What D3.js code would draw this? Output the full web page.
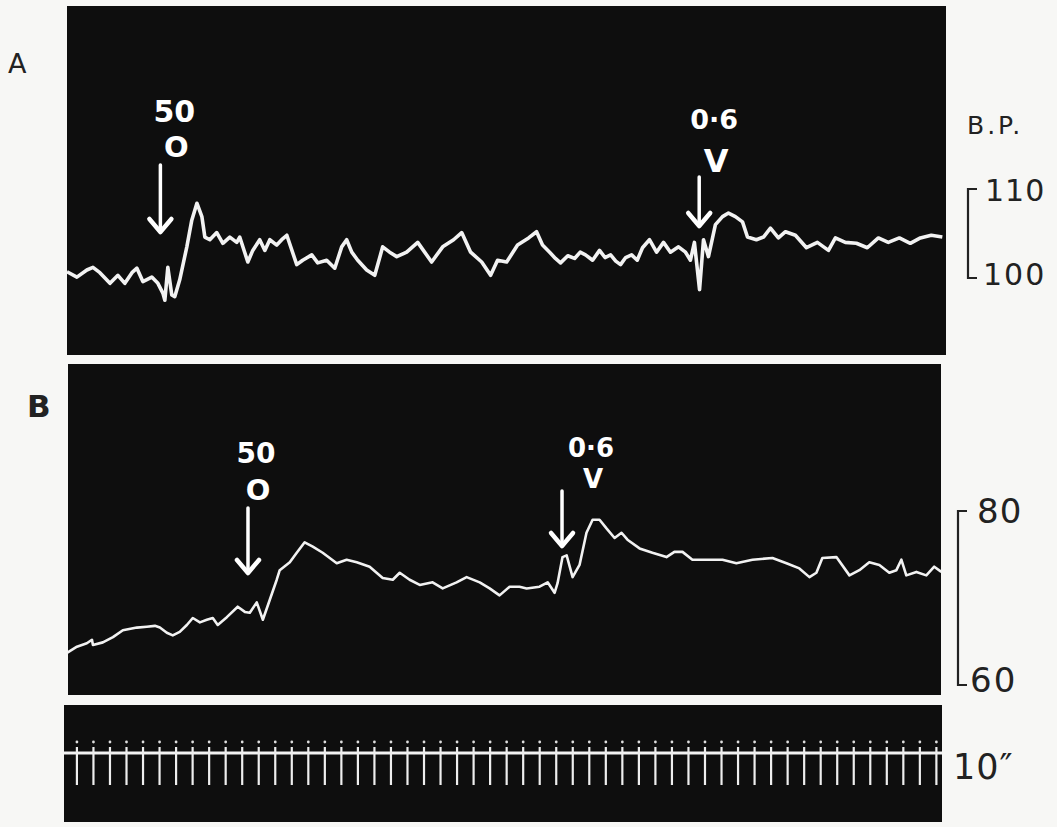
<!DOCTYPE html>
<html>
<head>
<meta charset="utf-8">
<script src="https://cdn.jsdelivr.net/npm/d3@7/dist/d3.min.js"></script>
<style>
  body { margin: 0; background: #f7f7f5; }
  svg { display: block; }
</style>
</head>
<body>
<div id="main_div"></div>
<script>
// time in seconds, pressure in mm Hg
var tA = [-6, 0, 6, 9.7, 13.9, 20, 24.8, 29, 33.3, 36.3, 39.9, 45.3, 49, 52, 53.2, 55, 57.4, 59.2, 62.2, 66.5,
  69.5, 72.6, 75.6, 77.4, 80.4, 84.6, 88.3, 92.5, 96.7, 98.5, 103.4, 106.4, 110.6, 113.7, 116.7, 120.9, 123.9, 127,
  133, 136.6, 142.1, 145.7, 151.1, 156, 160.2, 163.2, 166.3, 169.9, 175.3, 180.2, 185, 189.2, 193.5, 199.5, 206.2,
  214.6, 221.3, 227.9, 232.8, 238.2, 244.9, 250.3, 254.5, 260, 266.6, 273.3, 278.1, 281.7, 286, 289.5, 292.6, 297,
  301.1, 304.5, 307.7, 312, 316.2, 319.5, 322.9, 326, 328.9, 332, 335.6, 339, 342.2, 346.4, 350.7, 354.9, 359.1, 364,
  368.2, 371.2, 373.6, 376.7, 379.1, 382.1, 386.3, 390.6, 394.2, 398.4, 402.7, 405.7, 411.1, 415.4, 419.6, 424.4,
  428.7, 434.7, 441.4, 448, 454.7, 458.9, 464.9, 471.6, 478.2, 484.9, 490.9, 497.6, 504.2, 510.3, 516.9, 523.6];
var bpA = [100.7, 100.1, 100.9, 101.2, 100.6, 99.4, 100.3, 99.4, 100.6, 101.1, 99.6, 100.1, 99.4, 98.3, 97.5, 101.2,
  98.1, 97.9, 99.8, 103.5, 106.5, 108.4, 106.9, 104.6, 104.3, 105.1, 103.9, 104.6, 104.0, 104.6, 101.8, 103.1,
  104.3, 103.1, 104.3, 103.7, 104.3, 104.8, 101.5, 102.0, 102.6, 101.7, 102.0, 101.1, 103.5, 104.3, 102.9, 102.0,
  100.9, 100.3, 103.5, 102.9, 102.4, 102.9, 104.0, 101.8, 103.5, 104.3, 105.1, 102.9, 101.8, 100.3, 102.0, 101.8,
  103.7, 104.5, 105.2, 103.7, 102.9, 102.2, 101.7, 102.5, 102.2, 102.9, 102.6, 102.0, 103.1, 102.3, 102.6, 101.9,
  101.5, 102.3, 102.6, 102.0, 103.4, 104.3, 102.9, 104.0, 102.9, 103.5, 102.9, 102.0, 104.0, 98.7, 104.3, 102.4,
  106.0, 106.9, 107.3, 106.9, 106.3, 104.6, 104.3, 104.6, 105.6, 104.5, 105.2, 104.8, 103.4, 104.0, 103.1, 104.5,
  104.0, 103.9, 103.4, 104.5, 104.0, 104.5, 103.9, 104.5, 104.8, 104.6];

var tB = [-6, 0, 6, 9.1, 9.7, 15.7, 21.8, 27.8, 36.3, 42.3, 47.2, 50.2, 54.4, 58, 62.2, 66.5, 70.1, 74.4, 78.6, 82.2,
  85.2, 90.7, 97.3, 101.6, 104.6, 108.8, 112.5, 116.7, 120.9, 122.7, 128.8, 133, 137.8, 142.7, 148.7, 157.2, 163.2,
  169.3, 177.1, 185, 191.1, 195.3, 201.3, 207.4, 215.2, 221.3, 229.7, 235.8, 243.7, 249.7, 255.7, 261.8, 267.8,
  272.1, 279.9, 284.8, 289, 290.8, 293.8, 296.3, 299.9, 304.1, 308.3, 312, 316.2, 320.4, 325.3, 329.5, 333.1, 340.4,
  348.2, 356.7, 361.5, 366.4, 372.4, 380.9, 390.6, 399, 408.7, 420.8, 429.3, 437.1, 443.2, 447.4, 451, 459.5, 467.4,
  473.4, 479.4, 485.5, 491.5, 495.8, 498.8, 501.8, 507.9, 513.9, 518.7, 523];
var bpB = [63.7, 64.4, 64.8, 65.2, 64.6, 64.9, 65.5, 66.3, 66.6, 66.7, 66.8, 66.6, 66.0, 65.7, 66.1, 66.9, 67.7, 67.2,
  67.5, 67.7, 66.9, 67.8, 69.0, 68.4, 68.3, 69.5, 67.5, 69.8, 72.1, 73.2, 74.1, 75.2, 76.4, 75.9, 75.2, 74.0, 74.4,
  74.1, 73.6, 72.3, 72.1, 72.9, 72.1, 71.5, 71.8, 71.1, 71.8, 72.4, 71.8, 71.1, 70.3, 71.3, 71.3, 71.1, 71.3, 71.8,
  70.6, 71.7, 74.7, 74.9, 72.4, 73.8, 77.5, 79.0, 79.0, 78.0, 76.9, 77.5, 76.7, 75.7, 75.2, 74.7, 75.3, 75.3, 74.4,
  74.4, 74.4, 74.0, 74.4, 74.6, 74.0, 73.4, 72.4, 72.9, 74.6, 74.7, 72.6, 73.2, 74.1, 73.8, 72.9, 73.2, 74.4, 72.6,
  73.0, 72.6, 73.6, 73.0];

// injections: time of the arrow and the two lines written above it
var injA = [{t: 50.5, dose: "50", drug: "O"}, {t: 376.5, dose: "0\u00b76", drug: "V"}];
var injB = [{t: 103.5, dose: "50", drug: "O"}, {t: 293.5, dose: "0\u00b76", drug: "V"}];

var scaleA = [100, 110];
var scaleB = [60, 80];
var timeMarks = d3.range(0, 521, 10);   // every 10 s

var W = 1057, H = 827;
var svg = d3.select("#main_div").append("svg").attr("width", W).attr("height", H);

var x = d3.scaleLinear().domain([-6, 524]).range([67, 943]);
var yA = d3.scaleLinear().domain([100, 110]).range([278, 189]);
var yB = d3.scaleLinear().domain([60, 80]).range([685, 511]);

// black record strips
var panels = [{x: 67, y: 6, w: 879, h: 349}, {x: 68, y: 364, w: 873, h: 331}, {x: 64, y: 705, w: 878, h: 117}];
svg.selectAll("rect.panel").data(panels).enter().append("rect")
  .attr("class", "panel")
  .attr("x", function(d){ return d.x })
  .attr("y", function(d){ return d.y })
  .attr("width", function(d){ return d.w })
  .attr("height", function(d){ return d.h })
  .style("fill", "#0e0e0e");

function trace(ts, vs, y, sw){
  var line = d3.line()
    .x(function(d, i){ return x(ts[i]) })
    .y(function(d){ return y(d) });
  svg.append("path")
    .attr("d", line(vs))
    .style("fill", "none")
    .style("stroke", "#f2f2f2")
    .style("stroke-width", sw)
    .style("stroke-linejoin", "round");
}
trace(tA, bpA, yA, 3.6);
trace(tB, bpB, yB, 2.6);

// arrows + labels
var layA = [{top: 165, tip: 232, y1: 122, y2: 157, dx: 14, s1: 30, s2: 29},
            {top: 177, tip: 226, y1: 129, y2: 172, dx: 15, s1: 27, s2: 32}];
var layB = [{top: 508, tip: 573, y1: 463, y2: 500, dx: 8, s1: 28, s2: 29},
            {top: 491, tip: 546, y1: 457, y2: 488, dx: 29, s1: 26, s2: 26}];

function arrows(inj, lay){
  inj.forEach(function(d, i){
    var L = lay[i], ax = x(d.t);
    svg.append("line")
      .attr("x1", ax).attr("x2", ax).attr("y1", L.top).attr("y2", L.tip - 3)
      .style("stroke", "#fff").style("stroke-width", 3.5).style("stroke-linecap", "round");
    svg.append("path")
      .attr("d", "M" + (ax - 11) + "," + (L.tip - 13) + " L" + ax + "," + L.tip + " L" + (ax + 11) + "," + (L.tip - 13))
      .style("fill", "none").style("stroke", "#fff").style("stroke-width", 4.5)
      .style("stroke-linecap", "round").style("stroke-linejoin", "round");
    svg.append("text")
      .attr("x", ax + L.dx).attr("y", L.y1)
      .style("text-anchor", "middle").style("font-family", "DejaVu Sans").style("font-weight", "bold")
      .style("font-size", L.s1 + "px").style("fill", "#fff")
      .text(d.dose);
    svg.append("text")
      .attr("x", ax + L.dx + 2).attr("y", L.y2)
      .style("text-anchor", "middle").style("font-family", "DejaVu Sans").style("font-weight", "bold")
      .style("font-size", L.s2 + "px").style("fill", "#fff")
      .text(d.drug);
  });
}
arrows(injA, layA);
arrows(injB, layB);

// calibration brackets
function bracket(y, vals, bx, tx, fs, tx0){
  var y0 = y(vals[0]), y1 = y(vals[1]);
  svg.append("path")
    .attr("d", "M" + (bx + 9) + "," + y1 + " H" + bx + " V" + y0 + " H" + (bx + 9))
    .style("fill", "none").style("stroke", "#222").style("stroke-width", 2.2);
  svg.append("text").attr("x", tx).attr("y", y1 + 12)
    .style("font-family", "DejaVu Sans").style("font-size", fs + "px").style("fill", "#222")
    .style("letter-spacing", "1px")
    .text(vals[1]);
  svg.append("text").attr("x", tx0).attr("y", y0 + 7)
    .style("font-family", "DejaVu Sans").style("font-size", fs + "px").style("fill", "#222")
    .style("letter-spacing", "2px")
    .text(vals[0]);
}
bracket(yA, scaleA, 968, 985, 30, 983);
bracket(yB, scaleB, 958, 977, 34, 970);

// time marker
svg.append("line")
  .attr("x1", 64).attr("x2", 942).attr("y1", 753).attr("y2", 753)
  .style("stroke", "#f2f2f2").style("stroke-width", 3);
svg.selectAll("line.tick").data(timeMarks).enter().append("line")
  .attr("class", "tick")
  .attr("x1", function(d){ return x(d) }).attr("x2", function(d){ return x(d) })
  .attr("y1", 747).attr("y2", 785)
  .style("stroke", "#eee").style("stroke-width", 2.2);
svg.selectAll("circle.dot").data(timeMarks).enter().append("circle")
  .attr("class", "dot")
  .attr("cx", function(d){ return x(d) }).attr("cy", 742).attr("r", 1.4)
  .style("fill", "#ddd");

// labels
var labels = [
  {t: "A", x: 8, y: 73, s: 27, w: "normal", ls: 0},
  {t: "B", x: 27, y: 417, s: 31, w: "bold", ls: 0},
  {t: "B.P.", x: 967, y: 134, s: 25, w: "normal", ls: 3},
  {t: "10\u2033", x: 953, y: 779, s: 35, w: "normal", ls: 1}
];
svg.selectAll("text.lab").data(labels).enter().append("text")
  .attr("class", "lab")
  .attr("x", function(d){ return d.x }).attr("y", function(d){ return d.y })
  .style("font-family", "DejaVu Sans")
  .style("font-size", function(d){ return d.s + "px" })
  .style("font-weight", function(d){ return d.w })
  .style("letter-spacing", function(d){ return d.ls + "px" })
  .style("fill", "#222")
  .text(function(d){ return d.t });
</script>
</body>
</html>
